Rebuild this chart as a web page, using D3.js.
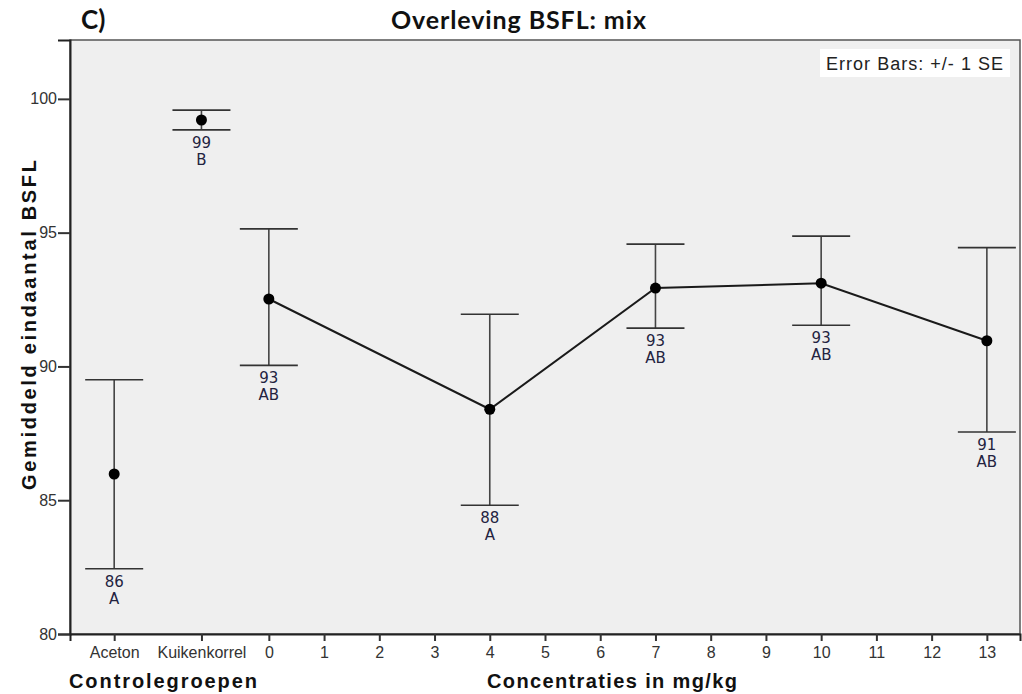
<!DOCTYPE html>
<html>
<head>
<meta charset="utf-8">
<script src="https://cdn.jsdelivr.net/npm/d3@7"></script>
<style>
  body { margin: 0; background: #fff; }
</style>
</head>
<body>
<div id="chart"></div>
<script>
// groups: position on the concentration axis (controls sit left of 0)
const GROUPS = ["Aceton", "Kuikenkorrel", "0", "4", "7", "10", "13"];
const POSITIONS = [-2.8, -1.22, 0, 4, 7, 10, 13];
const MEANS = [85.98, 99.21, 92.52, 88.40, 92.93, 93.11, 90.96];
const UPPER = [89.50, 99.58, 95.14, 91.95, 94.57, 94.87, 94.44];
const LOWER = [82.44, 98.84, 90.04, 84.81, 91.43, 91.54, 87.55];
const NUM_LABELS = ["86", "99", "93", "88", "93", "93", "91"];
const LETTERS = ["A", "B", "AB", "A", "AB", "AB", "AB"];
const CONNECTED = [false, false, true, true, true, true, true];

const X_TICKS = [-2.8, -1.22, 0, 1, 2, 3, 4, 5, 6, 7, 8, 9, 10, 11, 12, 13];
const X_TICK_LABELS = ["Aceton", "Kuikenkorrel", "0", "1", "2", "3", "4", "5", "6", "7", "8", "9", "10", "11", "12", "13"];
const Y_TICKS = [80, 85, 90, 95, 100];

const data = GROUPS.map((g, i) => ({
    group: g,
    pos: POSITIONS[i],
    mean: MEANS[i],
    hi: UPPER[i],
    lo: LOWER[i],
    num: NUM_LABELS[i],
    letter: LETTERS[i],
    line: CONNECTED[i]
}));

const width = 1022, height = 694;
const margin = { top: 40, right: 2, bottom: 60, left: 70 };
const innerW = width - margin.left - margin.right;
const innerH = height - margin.top - margin.bottom;

const svg = d3.select("#chart")
    .append("svg")
    .attr("width", width)
    .attr("height", height)
    .style("background", "#fff");

const g = svg.append("g")
    .attr("transform", `translate(${margin.left},${margin.top})`);

const x = d3.scaleLinear()
    .domain([-3.6, 13.6])
    .range([0, innerW]);

const y = d3.scaleLinear()
    .domain([80, 102.2])
    .range([innerH, 0]);

// plot background + frame
g.append("rect")
    .attr("width", innerW)
    .attr("height", innerH)
    .attr("fill", "#efefef")
    .attr("stroke", "#555")
    .attr("stroke-width", 1.5);

const sans = "'Liberation Sans', Arial, sans-serif";

// legend box
const leg = g.append("g")
    .attr("transform", `translate(${innerW - 200},9)`);
leg.append("rect")
    .attr("width", 190)
    .attr("height", 28)
    .attr("fill", "#fff");
leg.append("text")
    .attr("x", 6)
    .attr("y", 21)
    .attr("textLength", 177)
    .style("font-family", sans)
    .style("font-size", "18px")
    .style("fill", "#222")
    .text("Error Bars: +/- 1 SE");

// axes
const yAxis = g.append("g")
    .call(d3.axisLeft(y).tickValues(Y_TICKS).tickSize(12).tickPadding(1));
const xAxis = g.append("g")
    .attr("transform", `translate(0,${innerH})`)
    .call(d3.axisBottom(x).tickValues(X_TICKS).tickSize(7).tickPadding(6)
        .tickFormat((d, i) => X_TICK_LABELS[i]));

[yAxis, xAxis].forEach(a => {
    a.select(".domain").attr("stroke", "#222").attr("stroke-width", 2);
    a.selectAll(".tick line").attr("stroke", "#333").attr("stroke-width", 2);
    a.selectAll(".tick text")
        .style("font-family", sans)
        .style("font-size", "16px")
        .style("fill", "#333");
});

// connecting line for the concentration series
const line = d3.line()
    .x(d => x(d.pos))
    .y(d => y(d.mean));
g.append("path")
    .datum(data.filter(d => d.line))
    .attr("d", line)
    .attr("fill", "none")
    .attr("stroke", "#1a1a1a")
    .attr("stroke-width", 2);

const capW = 29;
const bars = g.selectAll(".err")
    .data(data)
    .enter()
    .append("g")
    .attr("class", "err");

bars.append("line")
    .attr("x1", d => x(d.pos))
    .attr("x2", d => x(d.pos))
    .attr("y1", d => y(d.hi))
    .attr("y2", d => y(d.lo))
    .attr("stroke", "#444")
    .attr("stroke-width", 1.6);

bars.selectAll(".cap")
    .data(d => [{ pos: d.pos, v: d.hi }, { pos: d.pos, v: d.lo }])
    .enter()
    .append("line")
    .attr("x1", d => x(d.pos) - capW)
    .attr("x2", d => x(d.pos) + capW)
    .attr("y1", d => y(d.v))
    .attr("y2", d => y(d.v))
    .attr("stroke", "#333")
    .attr("stroke-width", 1.6);

bars.append("circle")
    .attr("cx", d => x(d.pos))
    .attr("cy", d => y(d.mean))
    .attr("r", 5.5)
    .attr("fill", "#000");

const lblFont = "'DejaVu Sans', Verdana, sans-serif";
bars.append("text")
    .attr("x", d => x(d.pos))
    .attr("y", d => y(d.lo) + 18)
    .attr("text-anchor", "middle")
    .style("font-family", lblFont)
    .style("font-size", "15px")
    .style("fill", "#23233f")
    .text(d => d.num);

bars.append("text")
    .attr("x", d => x(d.pos))
    .attr("y", d => y(d.lo) + 35)
    .attr("text-anchor", "middle")
    .style("font-family", lblFont)
    .style("font-size", "15px")
    .style("fill", "#23233f")
    .text(d => d.letter);

// titles
svg.append("text")
    .attr("x", 391)
    .attr("y", 29)
    .attr("textLength", 255)
    .style("font-family", "Lato, 'Open Sans', sans-serif")
    .style("font-weight", "bold")
    .style("font-size", "25px")
    .style("fill", "#111")
    .text("Overleving BSFL: mix");

svg.append("text")
    .attr("x", 81)
    .attr("y", 29)
    .style("font-family", "Lato, 'Open Sans', sans-serif")
    .style("font-weight", "bold")
    .style("font-size", "26px")
    .style("fill", "#111")
    .text("C)");

svg.append("text")
    .attr("x", 69)
    .attr("y", 688)
    .attr("textLength", 188)
    .style("font-family", sans)
    .style("font-weight", "bold")
    .style("font-size", "20px")
    .style("fill", "#111")
    .text("Controlegroepen");

svg.append("text")
    .attr("x", 487)
    .attr("y", 688)
    .attr("textLength", 250)
    .style("font-family", sans)
    .style("font-weight", "bold")
    .style("font-size", "20px")
    .style("fill", "#111")
    .text("Concentraties in mg/kg");

svg.append("text")
    .attr("transform", "translate(36,325) rotate(-90)")
    .attr("text-anchor", "middle")
    .attr("textLength", 330)
    .style("font-family", sans)
    .style("font-weight", "bold")
    .style("font-size", "20px")
    .style("fill", "#111")
    .text("Gemiddeld eindaantal BSFL");
</script>
</body>
</html>
